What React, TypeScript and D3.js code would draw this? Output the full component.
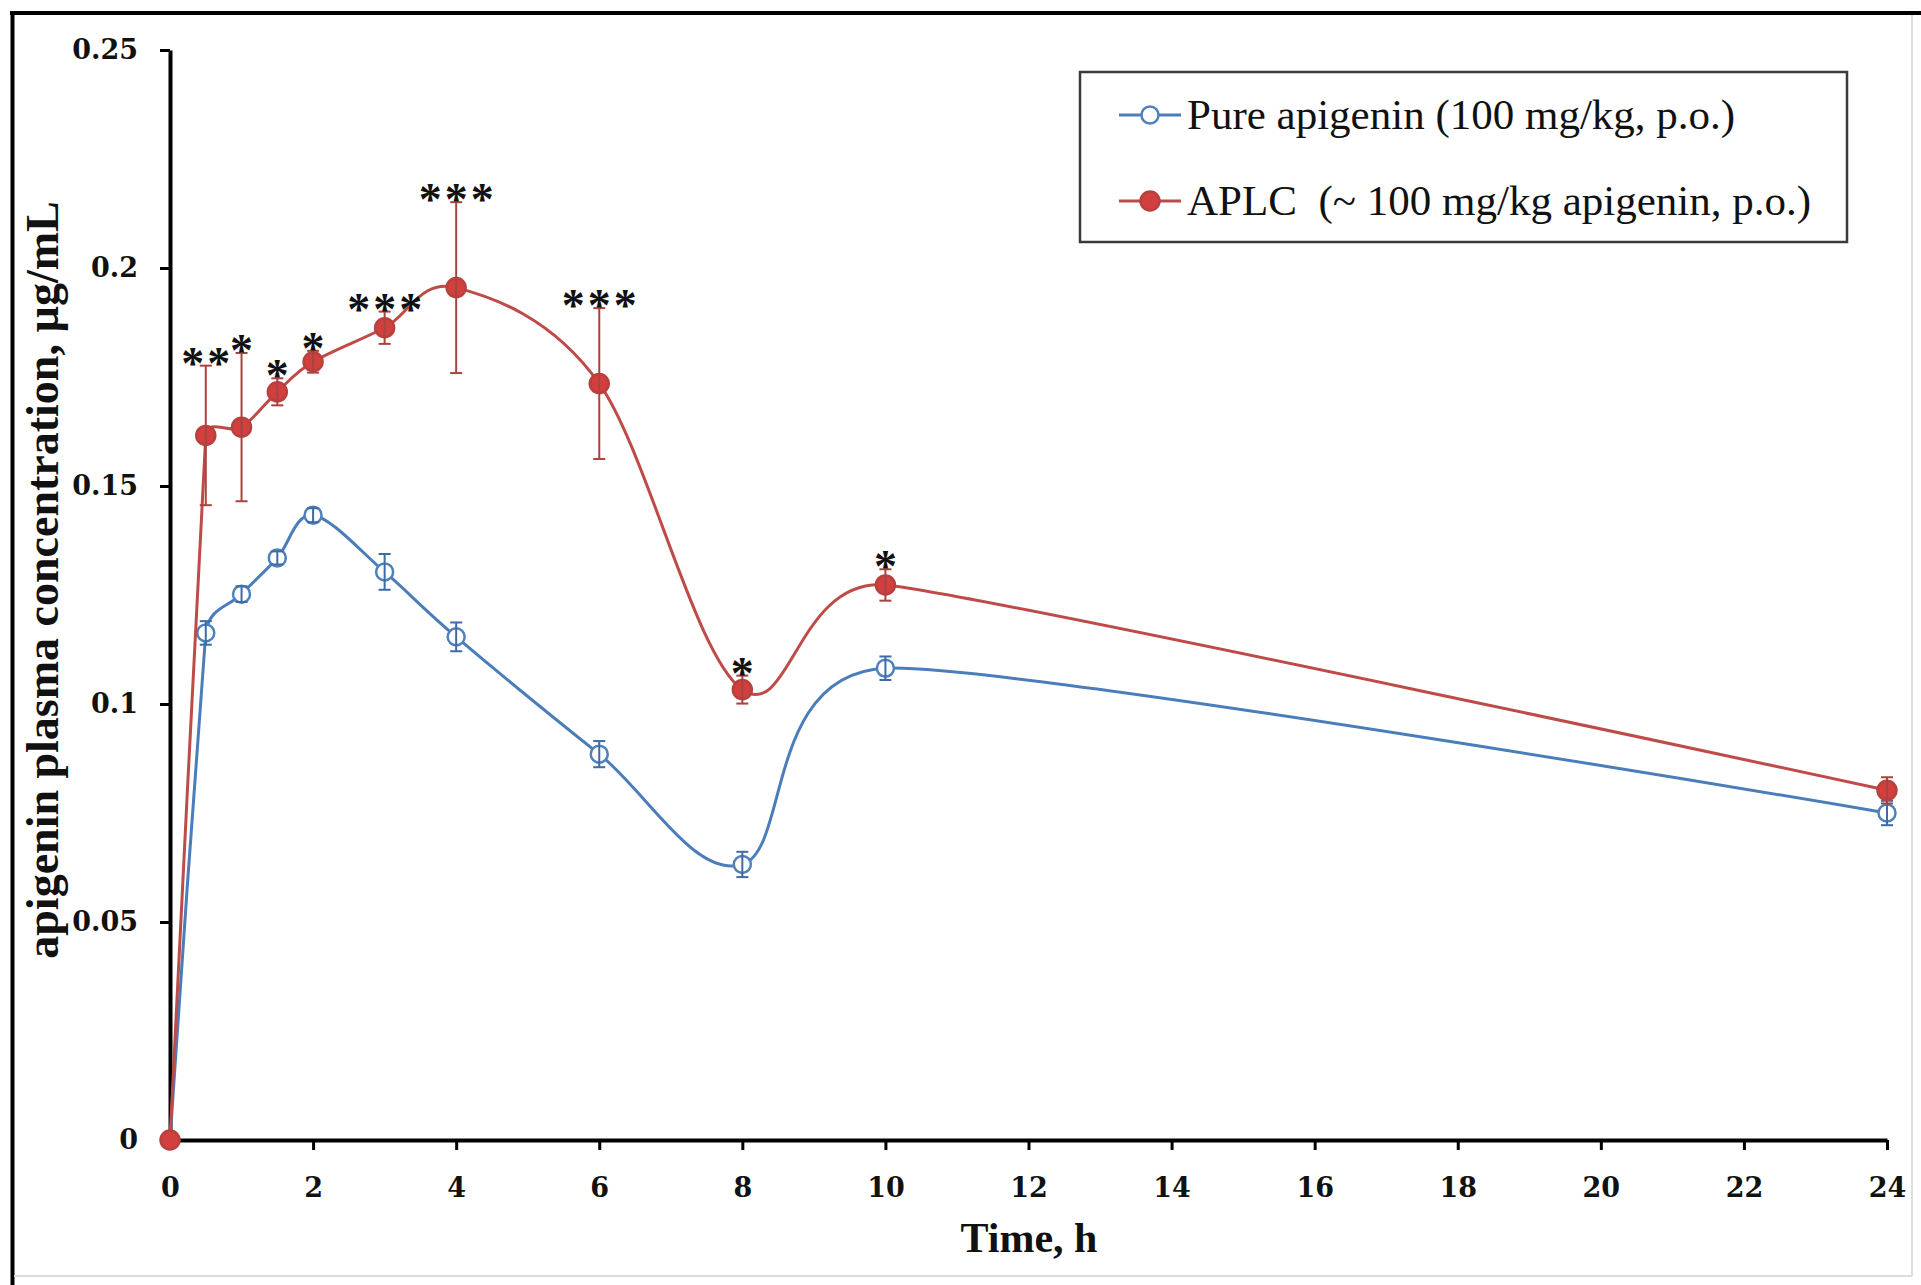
import React, { useRef, useEffect } from 'react';
import * as d3 from 'd3';

// sampling times (h)
const times = [0, 0.5, 1, 1.5, 2, 3, 4, 6, 8, 10, 24];
// pure apigenin, mean and SD (µg/mL)
const pureMean = [0, 0.1163, 0.1252, 0.1335, 0.1433, 0.1303, 0.1154, 0.0885, 0.0632, 0.1082, 0.075];
const pureSd = [0, 0.0027, 0.0018, 0.0015, 0.0016, 0.0041, 0.0033, 0.003, 0.0029, 0.0027, 0.0028];
// APLC, mean and SD (µg/mL)
const aplcMean = [0, 0.1616, 0.1635, 0.1716, 0.1785, 0.1863, 0.1955, 0.1735, 0.1033, 0.1273, 0.0802];
const aplcSd = [0, 0.016, 0.017, 0.0031, 0.0025, 0.0037, 0.0196, 0.0173, 0.0032, 0.0036, 0.003];
const aplcStars = ['', '**', '*', '*', '*', '***', '***', '***', '*', '*', ''];

const xTicks = [0, 2, 4, 6, 8, 10, 12, 14, 16, 18, 20, 22, 24];
const yTicks = [0, 0.05, 0.1, 0.15, 0.2, 0.25];
const seriesNames = ['Pure apigenin (100 mg/kg, p.o.)', 'APLC  (~ 100 mg/kg apigenin, p.o.)'];

const SERIF = '"Liberation Serif", "Times New Roman", serif';
const TICK_FONT = '"DejaVu Serif", serif';

// spreadsheet-style smoothing: Catmull-Rom tangents (1/6), control arm
// clamped to half of the shorter neighbouring segment
function smoothPath(pts) {
    const p = d3.path();
    const dist = (a, b) => Math.hypot(b[0] - a[0], b[1] - a[1]);
    const ctrl = (prev, cur, next, sign) => {
        const tx = next[0] - prev[0], ty = next[1] - prev[1];
        const len = Math.hypot(tx, ty);
        if (len === 0) return cur;
        let f = 1 / 6;
        const lim = Math.min(dist(prev, cur), dist(cur, next)) / 2;
        if (len * f > lim) f = lim / len;
        return [cur[0] + sign * f * tx, cur[1] + sign * f * ty];
    };
    p.moveTo(pts[0][0], pts[0][1]);
    for (let i = 0; i < pts.length - 1; i++) {
        const p0 = pts[Math.max(i - 1, 0)];
        const p1 = pts[i];
        const p2 = pts[i + 1];
        const p3 = pts[Math.min(i + 2, pts.length - 1)];
        const c1 = ctrl(p0, p1, p2, 1);
        const c2 = ctrl(p1, p2, p3, -1);
        p.bezierCurveTo(c1[0], c1[1], c2[0], c2[1], p2[0], p2[1]);
    }
    return p.toString();
}

function PlasmaChart() {
    const ref = useRef(null);

    useEffect(() => {
        const svg = d3.select(ref.current);
        svg.selectAll('*').remove();

        const x = d3.scaleLinear().domain([0, 24]).range([170, 1887]);
        const y = d3.scaleLinear().domain([0, 0.25]).range([1140, 50]);

        svg.append('rect').attr('width', 1921).attr('height', 1285).attr('fill', '#fff');

        // picture frame
        svg.append('line').attr('x1', 10).attr('x2', 1921).attr('y1', 13).attr('y2', 13)
            .attr('stroke', '#000').attr('stroke-width', 4);
        svg.append('line').attr('x1', 12.5).attr('x2', 12.5).attr('y1', 11).attr('y2', 1285)
            .attr('stroke', '#000').attr('stroke-width', 4);
        svg.append('line').attr('x1', 1912).attr('x2', 1912).attr('y1', 15).attr('y2', 1276)
            .attr('stroke', '#ddd').attr('stroke-width', 2);
        svg.append('line').attr('x1', 14).attr('x2', 1912).attr('y1', 1276).attr('y2', 1276)
            .attr('stroke', '#ddd').attr('stroke-width', 2);

        // axes
        const yAxis = svg.append('g')
            .attr('transform', 'translate(170,0)')
            .call(d3.axisLeft(y).tickValues(yTicks).tickFormat(d => String(d))
                .tickSize(10).tickSizeOuter(0).tickPadding(22));
        const xAxis = svg.append('g')
            .attr('transform', 'translate(0,1140)')
            .call(d3.axisBottom(x).tickValues(xTicks).tickFormat(d => String(d))
                .tickSize(10).tickSizeOuter(0).tickPadding(28));

        [yAxis, xAxis].forEach(ax => {
            ax.attr('font-family', TICK_FONT).attr('font-size', 27).attr('font-weight', 'bold');
            ax.select('.domain').attr('stroke', '#000').attr('stroke-width', 4);
            ax.selectAll('.tick line').attr('stroke', '#000').attr('stroke-width', 3);
            ax.selectAll('.tick text').attr('fill', '#111');
        });

        svg.append('text')
            .attr('transform', 'translate(58,580) rotate(-90)')
            .attr('text-anchor', 'middle')
            .attr('font-family', SERIF).attr('font-weight', 'bold').attr('font-size', 46)
            .attr('fill', '#111')
            .text('apigenin plasma concentration, µg/mL');

        svg.append('text')
            .attr('x', 1029).attr('y', 1252)
            .attr('text-anchor', 'middle')
            .attr('font-family', SERIF).attr('font-weight', 'bold').attr('font-size', 42)
            .attr('fill', '#111')
            .text('Time, h');

        const series = [
            { mean: pureMean, sd: pureSd, line: '#4A7DBA', bar: '#3F6AA5', fill: '#fff', stroke: '#4F81BD', r: 8.5 },
            { mean: aplcMean, sd: aplcSd, line: '#BE4B48', bar: '#A8433F', fill: '#D23F3F', stroke: '#B8403D', r: 9.5 }
        ];

        series.forEach(s => {
            const g = svg.append('g');
            g.append('path')
                .attr('d', smoothPath(s.mean.map((v, i) => [x(times[i]), y(v)])))
                .attr('fill', 'none')
                .attr('stroke', s.line)
                .attr('stroke-width', 3);

            g.selectAll('circle')
                .data(s.mean)
                .enter().append('circle')
                .attr('cx', (d, i) => x(times[i]))
                .attr('cy', d => y(d))
                .attr('r', s.r)
                .attr('fill', s.fill)
                .attr('stroke', s.stroke)
                .attr('stroke-width', 2.5);

            const bars = g.selectAll('.err')
                .data(s.mean.map((m, i) => ({ t: times[i], lo: m - s.sd[i], hi: m + s.sd[i], sd: s.sd[i] }))
                    .filter(d => d.sd > 0))
                .enter().append('g')
                .attr('class', 'err')
                .attr('stroke', s.bar)
                .attr('stroke-width', 2);
            bars.append('line')
                .attr('x1', d => x(d.t)).attr('x2', d => x(d.t))
                .attr('y1', d => y(d.lo)).attr('y2', d => y(d.hi));
            bars.append('line')
                .attr('x1', d => x(d.t) - 6).attr('x2', d => x(d.t) + 6)
                .attr('y1', d => y(d.hi)).attr('y2', d => y(d.hi));
            bars.append('line')
                .attr('x1', d => x(d.t) - 6).attr('x2', d => x(d.t) + 6)
                .attr('y1', d => y(d.lo)).attr('y2', d => y(d.lo));
        });

        // significance stars above APLC error bars
        const starG = svg.append('g')
            .attr('font-family', SERIF).attr('font-weight', 'bold').attr('font-size', 46)
            .attr('fill', '#111').attr('text-anchor', 'middle');
        aplcStars.forEach((s, i) => {
            const top = y(aplcMean[i] + aplcSd[i]);
            for (let k = 0; k < s.length; k++) {
                starG.append('text')
                    .attr('x', x(times[i]) + (k - (s.length - 1) / 2) * 26)
                    .attr('y', top + 13)
                    .text('*');
            }
        });

        // legend
        const legend = svg.append('g');
        legend.append('rect')
            .attr('x', 1080).attr('y', 72).attr('width', 767).attr('height', 170)
            .attr('fill', '#fff').attr('stroke', '#3a3a3a').attr('stroke-width', 2.5);
        seriesNames.forEach((name, i) => {
            const s = series[i];
            const ly = 115 + i * 86;
            legend.append('line')
                .attr('x1', 1119).attr('x2', 1181).attr('y1', ly).attr('y2', ly)
                .attr('stroke', s.line).attr('stroke-width', 3);
            legend.append('circle')
                .attr('cx', 1150).attr('cy', ly).attr('r', s.r)
                .attr('fill', s.fill).attr('stroke', s.stroke).attr('stroke-width', 2.5);
            legend.append('text')
                .attr('x', 1187).attr('y', ly + 14)
                .attr('font-family', SERIF).attr('font-size', 43).attr('fill', '#111')
                .style('white-space', 'pre')
                .text(name);
        });
    }, []);

    return (
        <svg ref={ref} width={1921} height={1285}
            style={{ position: 'absolute', left: 0, top: 0, display: 'block' }} />
    );
}

export default function App() {
    return <PlasmaChart />;
}
